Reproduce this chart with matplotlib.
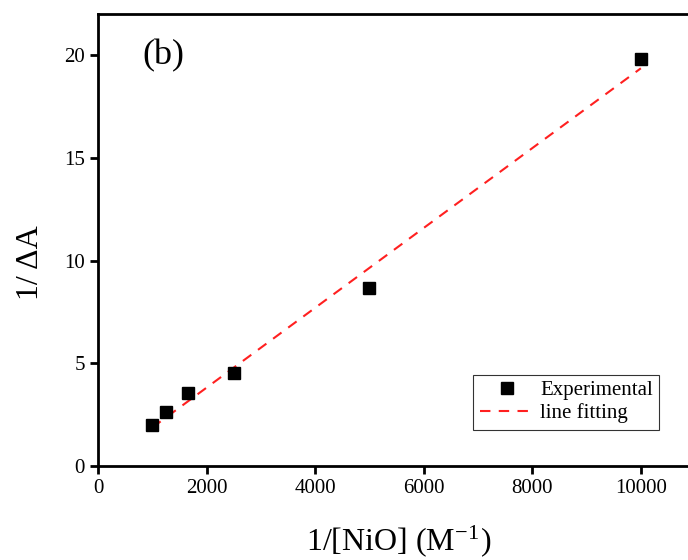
import numpy as np
import matplotlib.pyplot as plt

plt.rcParams['font.family'] = ['Liberation Serif', 'DejaVu Serif']
plt.rcParams['mathtext.fontset'] = 'stix'

inv_nio = [1000, 1250, 1667, 2500, 5000, 10000]
inv_dA = [2.0, 2.63, 3.55, 4.52, 8.66, 19.8]

slope, icept = np.polyfit(inv_nio, inv_dA, 1)
xfit = np.linspace(1000, 10000, 50)
yfit = slope * xfit + icept

fig = plt.figure(figsize=(6.88, 5.6), dpi=100)
ax = fig.add_axes([0.1424, 0.168, 0.868, 0.807])

ax.plot(inv_nio, inv_dA, 's', color='black', markersize=8, label='Experimental', zorder=3)
ax.plot(xfit, yfit, '--', color='#ff2020', lw=1.5, dashes=(5, 4), label='line fitting')

ax.set_xlim(0, 11000)
ax.set_ylim(0, 22)
ax.set_xticks([0, 2000, 4000, 6000, 8000, 10000])
ax.set_yticks([0, 5, 10, 15, 20])
ax.tick_params(direction='out', length=6, width=2, labelsize=15)
for s in ax.spines.values():
    s.set_linewidth(2)

ax.set_xlabel('1/[NiO] (M$^{\\mathregular{-1}}$)', fontsize=23)
ax.xaxis.set_label_coords(0.503, -0.128)
ax.set_ylabel('1/ ΔA', fontsize=23)
ax.yaxis.set_label_coords(-0.088, 0.45)
ax.text(0.075, 0.945, '(b)', transform=ax.transAxes, fontsize=26, va='top')

leg = ax.legend(loc='lower right', bbox_to_anchor=(0.957, 0.057), fontsize=15,
                frameon=True, fancybox=False, edgecolor='black', handlelength=2.6,
                handletextpad=0.3, borderpad=0.3, labelspacing=0.15)
leg.get_frame().set_linewidth(0.8)

fig.savefig('out.png', dpi=100)
